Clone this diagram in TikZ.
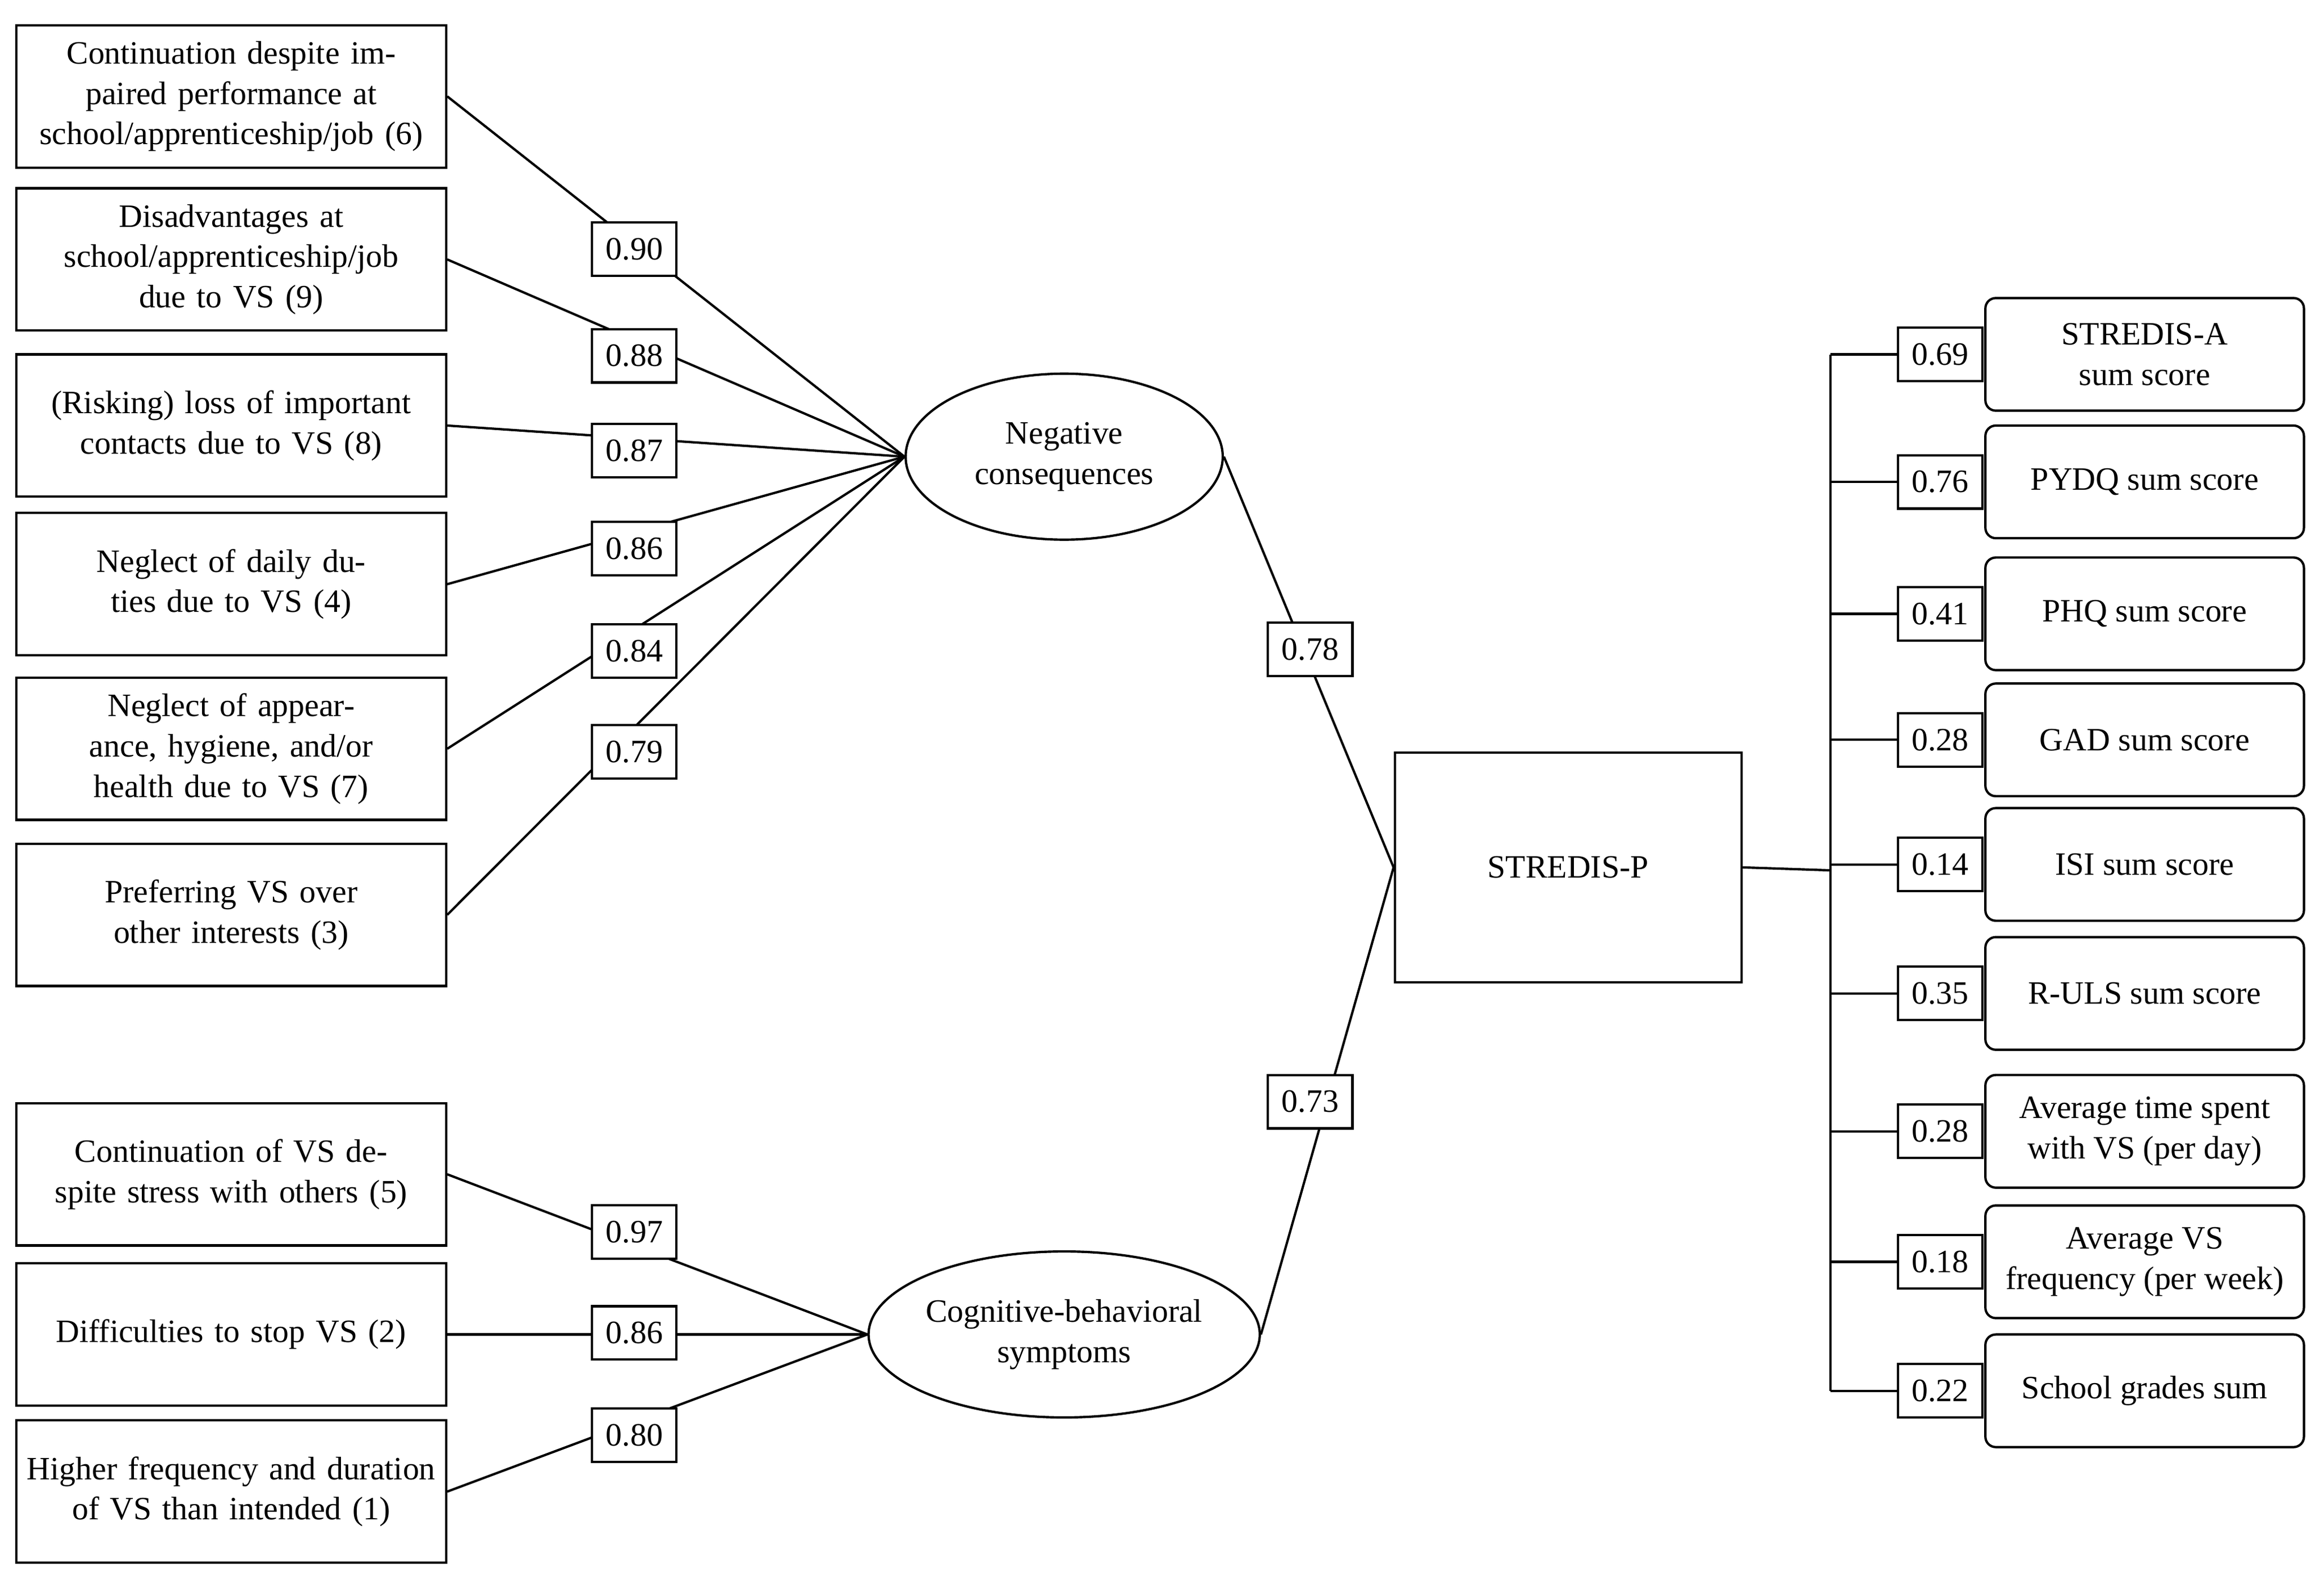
\documentclass[tikz,border=0pt]{standalone}
\usepackage{fontspec}
\setmainfont{Liberation Serif}
\usetikzlibrary{shapes.geometric}
\begin{document}
\begin{tikzpicture}[x=0.02cm,y=-0.02cm,
 every node/.style={font=\fontsize{12.5}{15.5}\selectfont},
 item/.style={draw,line width=0.9pt,minimum width=5.8cm,minimum height=1.92cm,align=center,text width=5.6cm,inner sep=1pt},
 lab/.style={draw,line width=0.9pt,fill=white,minimum width=1.14cm,minimum height=0.72cm,inner sep=1pt},
 lat/.style={draw,ellipse,line width=0.9pt,minimum width=4.28cm,minimum height=2.24cm,align=center,inner sep=0pt},
 outbox/.style={draw,rounded corners=4pt,line width=0.9pt,minimum width=4.3cm,minimum height=1.52cm,align=center,inner sep=1pt},
 ln/.style={line width=0.9pt}]
\useasboundingbox (0,0) rectangle (1568,1071);
\node[item] (b1) at (156,65) {Continuation despite impaired performance at school/apprenticeship/job (6)};
\node[item] (b2) at (156,175) {Disadvantages at school/apprenticeship/job due to VS (9)};
\node[item] (b3) at (156,287) {(Risking) loss of important contacts due to VS (8)};
\node[item] (b4) at (156,394) {Neglect of daily duties due to VS (4)};
\node[item] (b5) at (156,505) {Neglect of appearance, hygiene, and/or health due to VS (7)};
\node[item] (b6) at (156,617) {Preferring VS over other interests (3)};
\node[item] (b7) at (156,792) {Continuation of VS despite stress with others (5)};
\node[item] (b8) at (156,900) {Difficulties to stop VS (2)};
\node[item] (b9) at (156,1006) {Higher frequency and duration of VS than intended (1)};
\node[lat] (neg) at (718,308) {Negative\\consequences};
\node[lat] (cog) at (718,900) {Cognitive-behavioral\\symptoms};
\node[draw,line width=0.9pt,minimum width=4.68cm,minimum height=3.1cm] (sp) at (1058,585) {STREDIS-P};
\foreach \b in {b1,b2,b3,b4,b5,b6} \draw[ln] (\b.east) -- (neg.west);
\foreach \b in {b7,b8,b9} \draw[ln] (\b.east) -- (cog.west);
\draw[ln] (neg.east) -- (sp.west);
\draw[ln] (cog.east) -- (sp.west);
\node[lab] (l1) at (428,168) {0.90};
\node[lab] (l2) at (428,240) {0.88};
\node[lab] (l3) at (428,304) {0.87};
\node[lab] (l4) at (428,370) {0.86};
\node[lab] (l5) at (428,439) {0.84};
\node[lab] (l6) at (428,507) {0.79};
\node[lab] (l7) at (428,831) {0.97};
\node[lab] (l8) at (428,899) {0.86};
\node[lab] (l9) at (428,968) {0.80};
\node[lab] (lp) at (884,438) {0.78};
\node[lab] (lq) at (884,743) {0.73};
\coordinate (vt) at (1235,239);
\coordinate (vb) at (1235,938);
\coordinate (vm) at (1235,587);
\draw[ln] (vt) -- (vb);
\draw[ln] (sp.east) -- (vm);
\foreach \y/\v/\t [count=\i] in {239/0.69/{STREDIS-A\\sum score},325/0.76/{PYDQ sum score},414/0.41/{PHQ sum score},499/0.28/{GAD sum score},583/0.14/{ISI sum score},670/0.35/{R-ULS sum score},763/0.28/{Average time spent\\with VS (per day)},851/0.18/{Average VS\\frequency (per week)},938/0.22/{School grades sum}}{
 \node[outbox] (o\i) at (1447,\y) {\t};
 \node[lab] (r\i) at (1309,\y) {\v};
 \coordinate (c\i) at (1235,\y);
 \draw[ln] (c\i) -- (r\i.west);
}
\end{tikzpicture}
\end{document}
